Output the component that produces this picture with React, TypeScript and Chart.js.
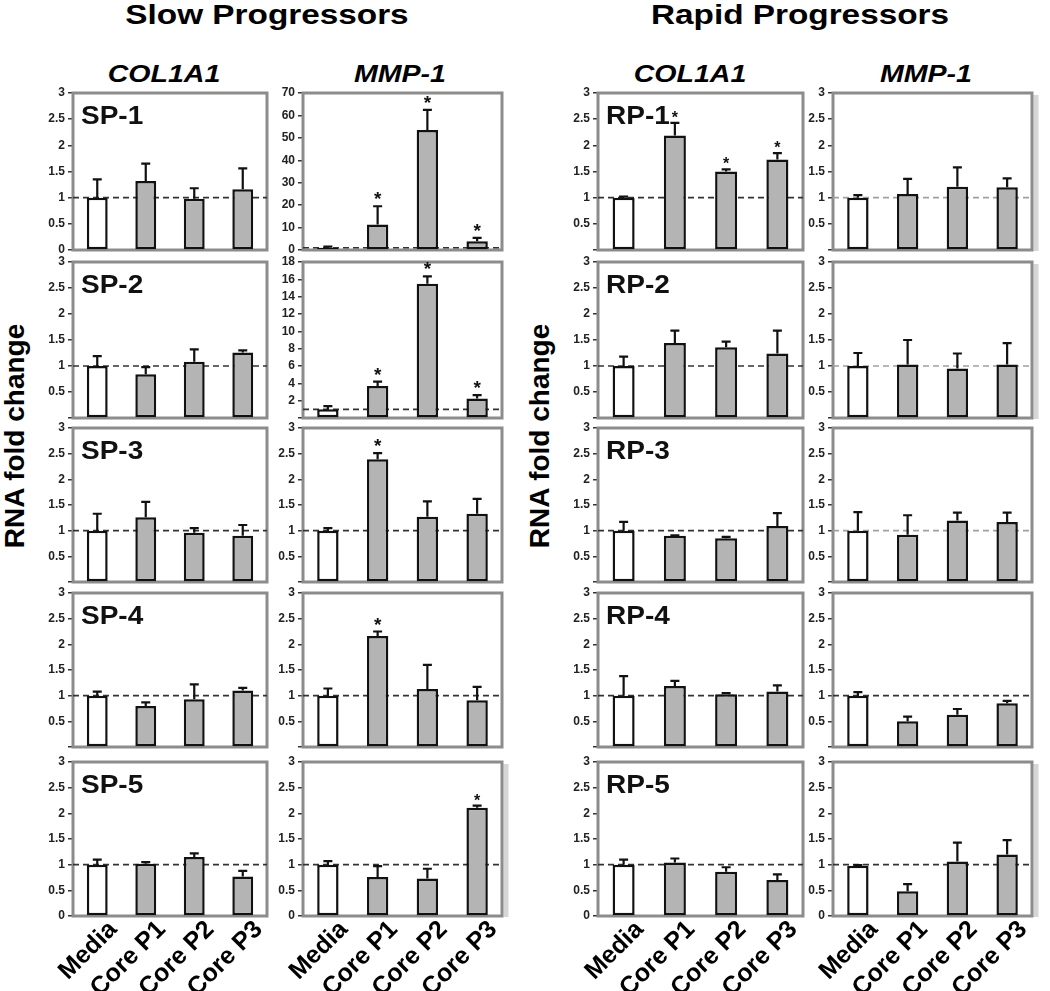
import React, { useEffect, useRef } from "react";
import { Chart, registerables } from "chart.js";
Chart.register(...registerables);

// ---------- data ----------
const categories = ["Media", "Core P1", "Core P2", "Core P3"];

const sp1Col = [1.0, 1.32, 0.98, 1.16];
const sp1ColErr = [0.35, 0.33, 0.2, 0.4];
const sp1Mmp = [1.0, 11.4, 53.5, 3.9];
const sp1MmpErr = [0.5, 8.1, 9.0, 1.5];

const sp2Col = [1.0, 0.84, 1.08, 1.26];
const sp2ColErr = [0.19, 0.14, 0.24, 0.04];
const sp2Mmp = [1.0, 3.69, 15.5, 2.24];
const sp2MmpErr = [0.37, 0.51, 0.85, 0.39];

const sp3Col = [1.0, 1.26, 0.96, 0.9];
const sp3ColErr = [0.33, 0.3, 0.09, 0.21];
const sp3Mmp = [1.0, 2.39, 1.27, 1.33];
const sp3MmpErr = [0.05, 0.12, 0.3, 0.29];

const sp4Col = [1.0, 0.8, 0.93, 1.1];
const sp4ColErr = [0.08, 0.07, 0.29, 0.05];
const sp4Mmp = [1.0, 2.16, 1.13, 0.91];
const sp4MmpErr = [0.14, 0.09, 0.47, 0.26];

const sp5Col = [1.0, 1.02, 1.15, 0.77];
const sp5ColErr = [0.1, 0.03, 0.07, 0.11];
const sp5Mmp = [1.0, 0.76, 0.73, 2.11];
const sp5MmpErr = [0.07, 0.21, 0.19, 0.04];

const rp1Col = [1.0, 2.19, 1.5, 1.73];
const rp1ColErr = [0.02, 0.24, 0.04, 0.12];
const rp1Mmp = [1.0, 1.07, 1.21, 1.2];
const rp1MmpErr = [0.05, 0.29, 0.37, 0.17];

const rp2Col = [1.0, 1.44, 1.36, 1.24];
const rp2ColErr = [0.18, 0.24, 0.11, 0.44];
const rp2Mmp = [1.0, 1.03, 0.95, 1.03];
const rp2MmpErr = [0.25, 0.47, 0.29, 0.41];

const rp3Col = [1.0, 0.9, 0.85, 1.09];
const rp3ColErr = [0.17, 0.01, 0.03, 0.25];
const rp3Mmp = [1.0, 0.92, 1.2, 1.17];
const rp3MmpErr = [0.36, 0.38, 0.15, 0.18];

const rp4Col = [1.0, 1.19, 1.03, 1.08];
const rp4ColErr = [0.38, 0.1, 0.02, 0.12];
const rp4Mmp = [1.0, 0.5, 0.63, 0.85];
const rp4MmpErr = [0.07, 0.09, 0.11, 0.05];

const rp5Col = [1.0, 1.04, 0.86, 0.7];
const rp5ColErr = [0.1, 0.08, 0.09, 0.11];
const rp5Mmp = [0.98, 0.48, 1.06, 1.2];
const rp5MmpErr = [0.01, 0.14, 0.37, 0.28];

const noStars = [false, false, false, false];
const starsP123 = [false, true, true, true];
const starsP1 = [false, true, false, false];
const starsP3 = [false, false, false, true];

const baselineValue = 1;

// ---------- layout ----------
const colBox = [
  [73, 267],
  [303, 502],
  [598, 803],
  [833, 1032],
];
const rowBox = [
  [93, 250],
  [262, 418],
  [428, 582],
  [593, 747],
  [762, 916],
];

const FONT = "'Liberation Sans', Arial, Helvetica, sans-serif";
const AX = 48;
const PT = 12;
const PR = 12;
const PB = 8;
const XH = 75;

type PanelCfg = {
  label?: string;
  col: number;
  row: number;
  mean: number[];
  err: number[];
  stars: boolean[];
  max: number;
  step: number;
  zero: boolean;
  dash: string;
  shadow?: boolean;
  starSize?: number;
};

const DARK = "#333";
const LIGHT = "#a0a0a0";

const panels: PanelCfg[] = [
  { label: "SP-1", col: 0, row: 0, mean: sp1Col, err: sp1ColErr, stars: noStars, max: 3, step: 0.5, zero: true, dash: DARK },
  { col: 1, row: 0, mean: sp1Mmp, err: sp1MmpErr, stars: starsP123, max: 70, step: 10, zero: true, dash: DARK },
  { label: "RP-1", col: 2, row: 0, mean: rp1Col, err: rp1ColErr, stars: starsP123, max: 3, step: 0.5, zero: false, dash: DARK, starSize: 16 },
  { col: 3, row: 0, mean: rp1Mmp, err: rp1MmpErr, stars: noStars, max: 3, step: 0.5, zero: false, dash: LIGHT, shadow: true },

  { label: "SP-2", col: 0, row: 1, mean: sp2Col, err: sp2ColErr, stars: noStars, max: 3, step: 0.5, zero: false, dash: DARK },
  { col: 1, row: 1, mean: sp2Mmp, err: sp2MmpErr, stars: starsP123, max: 18, step: 2, zero: false, dash: DARK },
  { label: "RP-2", col: 2, row: 1, mean: rp2Col, err: rp2ColErr, stars: noStars, max: 3, step: 0.5, zero: false, dash: DARK },
  { col: 3, row: 1, mean: rp2Mmp, err: rp2MmpErr, stars: noStars, max: 3, step: 0.5, zero: false, dash: LIGHT, shadow: true },

  { label: "SP-3", col: 0, row: 2, mean: sp3Col, err: sp3ColErr, stars: noStars, max: 3, step: 0.5, zero: false, dash: DARK },
  { col: 1, row: 2, mean: sp3Mmp, err: sp3MmpErr, stars: starsP1, max: 3, step: 0.5, zero: false, dash: DARK },
  { label: "RP-3", col: 2, row: 2, mean: rp3Col, err: rp3ColErr, stars: noStars, max: 3, step: 0.5, zero: false, dash: DARK },
  { col: 3, row: 2, mean: rp3Mmp, err: rp3MmpErr, stars: noStars, max: 3, step: 0.5, zero: false, dash: LIGHT },

  { label: "SP-4", col: 0, row: 3, mean: sp4Col, err: sp4ColErr, stars: noStars, max: 3, step: 0.5, zero: false, dash: DARK },
  { col: 1, row: 3, mean: sp4Mmp, err: sp4MmpErr, stars: starsP1, max: 3, step: 0.5, zero: false, dash: DARK },
  { label: "RP-4", col: 2, row: 3, mean: rp4Col, err: rp4ColErr, stars: noStars, max: 3, step: 0.5, zero: false, dash: DARK },
  { col: 3, row: 3, mean: rp4Mmp, err: rp4MmpErr, stars: noStars, max: 3, step: 0.5, zero: false, dash: DARK },

  { label: "SP-5", col: 0, row: 4, mean: sp5Col, err: sp5ColErr, stars: noStars, max: 3, step: 0.5, zero: true, dash: DARK },
  { col: 1, row: 4, mean: sp5Mmp, err: sp5MmpErr, stars: starsP3, max: 3, step: 0.5, zero: true, dash: DARK, shadow: true, starSize: 16 },
  { label: "RP-5", col: 2, row: 4, mean: rp5Col, err: rp5ColErr, stars: noStars, max: 3, step: 0.5, zero: true, dash: DARK },
  { col: 3, row: 4, mean: rp5Mmp, err: rp5MmpErr, stars: noStars, max: 3, step: 0.5, zero: true, dash: DARK, shadow: true },
];

const decorPlugin = {
  id: "decor",
  beforeDatasetsDraw(chart: any, _args: any, opts: any) {
    const { ctx, chartArea } = chart;
    const y = chart.scales.y;
    ctx.save();
    if (opts.shadow) {
      ctx.fillStyle = "#d6d6d6";
      ctx.fillRect(chartArea.right + 1.5, chartArea.top + 2, 5, chartArea.bottom - chartArea.top - 1);
    }
    ctx.strokeStyle = "#8c8c8c";
    ctx.lineWidth = 3;
    ctx.strokeRect(chartArea.left, chartArea.top, chartArea.right - chartArea.left, chartArea.bottom - chartArea.top);
    const yb = y.getPixelForValue(baselineValue);
    ctx.strokeStyle = opts.dash;
    ctx.lineWidth = 1.6;
    ctx.setLineDash([6, 4]);
    ctx.beginPath();
    ctx.moveTo(chartArea.left, yb);
    ctx.lineTo(chartArea.right, yb);
    ctx.stroke();
    ctx.restore();
  },
  afterDatasetsDraw(chart: any, _args: any, opts: any) {
    const { ctx, chartArea } = chart;
    const y = chart.scales.y;
    const meta = chart.getDatasetMeta(0);
    ctx.save();
    ctx.strokeStyle = "#111";
    ctx.fillStyle = "#111";
    ctx.lineWidth = 2.2;
    meta.data.forEach((bar: any, i: number) => {
      const m = opts.mean[i];
      const e = opts.err[i];
      const yTop = y.getPixelForValue(m + e);
      const x = bar.x;
      ctx.beginPath();
      ctx.moveTo(x, bar.y);
      ctx.lineTo(x, yTop);
      ctx.moveTo(x - 4.5, yTop);
      ctx.lineTo(x + 4.5, yTop);
      ctx.stroke();
      if (opts.stars[i]) {
        const sz = opts.starSize || 19;
        ctx.font = `bold ${sz}px ${FONT}`;
        ctx.textAlign = "center";
        ctx.textBaseline = "alphabetic";
        ctx.fillText("*", x, yTop - 1 + (19 - sz) * 0.3);
      }
    });
    if (opts.label) {
      ctx.font = `bold 25px ${FONT}`;
      ctx.textAlign = "left";
      ctx.textBaseline = "alphabetic";
      ctx.translate(chartArea.left + 8, chartArea.top + 31);
      ctx.scale(1.12, 1);
      ctx.fillText(opts.label, 0, 0);
    }
    ctx.restore();
  },
};

function Panel({ cfg }: { cfg: PanelCfg }) {
  const ref = useRef<HTMLCanvasElement>(null);
  const isBottom = cfg.row === 4;
  const [bl, br] = colBox[cfg.col];
  const [bt, bb] = rowBox[cfg.row];
  const left = bl - AX;
  const top = bt - PT;
  const width = br - bl + AX + PR;
  const height = bb - bt + PT + (isBottom ? XH : PB);

  useEffect(() => {
    if (!ref.current) return;
    const chart = new Chart(ref.current, {
      type: "bar",
      data: {
        labels: categories,
        datasets: [
          {
            data: cfg.mean,
            backgroundColor: cfg.mean.map((_, i) => (i === 0 ? "#ffffff" : "#b4b4b4")),
            borderColor: "#111",
            borderWidth: 2.5,
            borderSkipped: false,
            barPercentage: 0.43,
            categoryPercentage: 1,
          },
        ],
      },
      options: {
        animation: false,
        responsive: false,
        maintainAspectRatio: false,
        layout: { padding: { left: 0, top: PT, right: PR, bottom: isBottom ? 0 : PB } },
        plugins: {
          legend: { display: false },
          tooltip: { enabled: false },
          decor: {
            mean: cfg.mean,
            err: cfg.err,
            stars: cfg.stars,
            label: cfg.label,
            dash: cfg.dash,
            shadow: !!cfg.shadow,
            starSize: cfg.starSize,
          },
        } as any,
        scales: {
          x: {
            display: isBottom,
            grid: { display: false },
            border: { display: false },
            ticks: {
              autoSkip: false,
              maxRotation: 45,
              minRotation: 45,
              color: "#000",
              font: { family: FONT, size: 25, weight: "bold" },
              padding: -9,
              labelOffset: 16,
            },
            afterFit: (s: any) => {
              if (isBottom) s.height = XH;
              s.paddingLeft = 0;
              s.paddingRight = 0;
            },
          },
          y: {
            min: 0,
            max: cfg.max,
            ticks: {
              stepSize: cfg.step,
              autoSkip: false,
              color: "#222",
              font: { family: FONT, size: 12, weight: "bold" },
              padding: 3,
              callback: (v: any) => (Number(v) === 0 && !cfg.zero ? "" : String(v)),
            },
            grid: { display: true, drawOnChartArea: false, drawTicks: true, tickLength: 5, color: "#333", lineWidth: 1.5 },
            border: { display: false },
            afterFit: (s: any) => {
              s.width = AX;
              s.paddingTop = 0;
              s.paddingBottom = 0;
            },
          },
        },
      } as any,
      plugins: [decorPlugin],
    });
    return () => chart.destroy();
  }, []);

  return (
    <canvas
      ref={ref}
      width={width}
      height={height}
      style={{ position: "absolute", left, top, width, height }}
    />
  );
}

const headerStyle = (cx: number, top: number, size: number, italic: boolean): React.CSSProperties => ({
  position: "absolute",
  left: cx,
  top,
  fontFamily: FONT,
  fontWeight: "bold",
  fontStyle: italic ? "italic" : "normal",
  fontSize: size,
  lineHeight: `${size}px`,
  whiteSpace: "nowrap",
  color: "#000",
  transform: "translateX(-50%) scaleX(1.19)",
});

const yLabelStyle = (cx: number, cy: number): React.CSSProperties => ({
  position: "absolute",
  left: cx,
  top: cy,
  fontFamily: FONT,
  fontWeight: "bold",
  fontSize: 28,
  lineHeight: "28px",
  whiteSpace: "nowrap",
  color: "#000",
  transform: "translate(-50%, -50%) rotate(-90deg)",
});

export default function App() {
  return (
    <div style={{ position: "absolute", left: 0, top: 0, width: 1050, height: 991, background: "#fff", overflow: "hidden" }}>
      <div style={headerStyle(267, 1, 28, false)}>Slow Progressors</div>
      <div style={headerStyle(800, 1, 28, false)}>Rapid Progressors</div>
      <div style={headerStyle(164, 62, 24, true)}>COL1A1</div>
      <div style={headerStyle(400, 62, 24, true)}>MMP-1</div>
      <div style={headerStyle(690, 62, 24, true)}>COL1A1</div>
      <div style={headerStyle(926, 62, 24, true)}>MMP-1</div>
      <div style={yLabelStyle(15, 436)}>RNA fold change</div>
      <div style={yLabelStyle(540, 436)}>RNA fold change</div>
      {panels.map((p, i) => (
        <Panel key={i} cfg={p} />
      ))}
    </div>
  );
}
